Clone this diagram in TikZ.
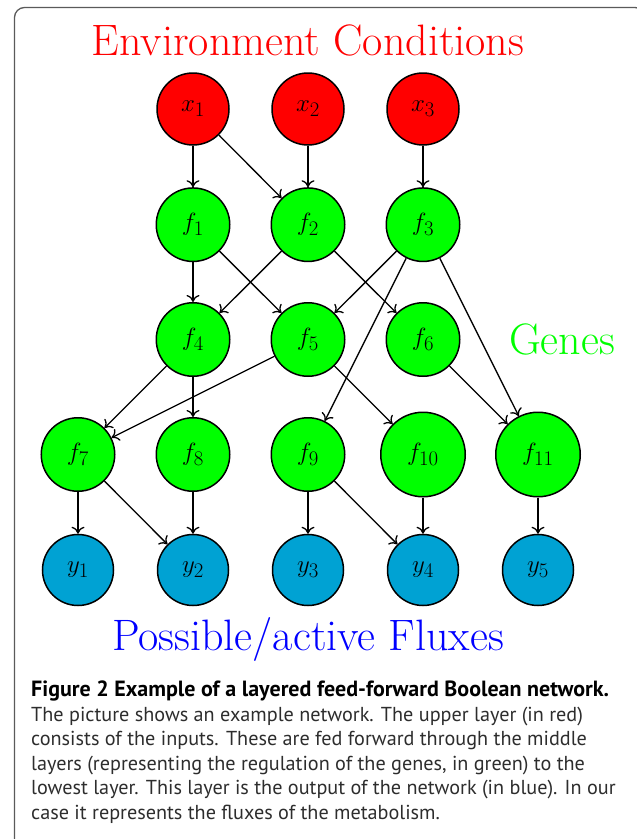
\documentclass[tikz,border=0pt]{standalone}
\usepackage{fontspec}
\newfontfamily\capfont{PT Sans}
\usetikzlibrary{arrows.meta}
\definecolor{xred}{RGB}{255,0,0}
\definecolor{fgreen}{RGB}{0,255,0}
\definecolor{yblue}{RGB}{0,162,211}
\definecolor{tblue}{RGB}{0,0,255}
\definecolor{framegray}{RGB}{90,90,90}
\definecolor{captext}{RGB}{45,45,45}
\begin{document}
\begin{tikzpicture}[x=1pt,y=-1pt,
  gate/.style={circle, draw=black, line width=1.5pt, inner sep=0pt, font=\Huge},
  xnode/.style={gate, fill=xred, minimum size=72pt},
  fnode/.style={gate, fill=fgreen, minimum size=73.5pt},
  fwide/.style={gate, fill=fgreen, minimum size=84.5pt},
  ynode/.style={gate, fill=yblue, minimum size=71pt},
  edge/.style={line width=1.3pt, -{To[length=7pt,width=13pt]}},
  bigtitle/.style={font=\fontsize{44}{50}\selectfont, anchor=base, inner sep=0pt},
  capline/.style={anchor=base west, inner sep=0pt, font=\capfont\fontsize{20.2}{24}\selectfont, text=captext},
  capbold/.style={capline, font=\capfont\bfseries\fontsize{22}{24}\selectfont, text=black}]
\useasboundingbox (0,0) rectangle (637,839);
\draw[framegray, line width=1.3pt, rounded corners=10pt] (14.5,900) -- (14.5,7.5) -- (645,7.5) -- (645,900);

\node[bigtitle, text=xred] (title) at (308,55) {Environment Conditions};
\node[bigtitle, text=fgreen] (genes) at (562,354) {Genes};
\node[bigtitle, text=tblue] (fluxes) at (308,650) {Possible/active Fluxes};

\node[xnode] (x1) at (193,109) {$x_1$};
\node[xnode] (x2) at (308,109) {$x_2$};
\node[xnode] (x3) at (423,109) {$x_3$};

\node[fnode] (f1) at (193,224.7) {$f_1$};
\node[fnode] (f2) at (308,224.7) {$f_2$};
\node[fnode] (f3) at (423,224.7) {$f_3$};

\node[fnode] (f4) at (193,339.5) {$f_4$};
\node[fnode] (f5) at (308,339.5) {$f_5$};
\node[fnode] (f6) at (423,339.5) {$f_6$};

\node[fnode] (f7) at (78,454.5) {$f_7$};
\node[fnode] (f8) at (193,454.5) {$f_8$};
\node[fnode] (f9) at (308,454.5) {$f_9$};
\node[fwide] (f10) at (423,454.5) {$f_{10}$};
\node[fwide] (f11) at (538,454.5) {$f_{11}$};

\node[ynode] (y1) at (78,570) {$y_1$};
\node[ynode] (y2) at (193,570) {$y_2$};
\node[ynode] (y3) at (308,570) {$y_3$};
\node[ynode] (y4) at (423,570) {$y_4$};
\node[ynode] (y5) at (538,570) {$y_5$};

\draw[edge] (x1) -- (f1);
\draw[edge] (x1) -- (f2);
\draw[edge] (x2) -- (f2);
\draw[edge] (x3) -- (f3);

\draw[edge] (f1) -- (f4);
\draw[edge] (f1) -- (f5);
\draw[edge] (f2) -- (f4);
\draw[edge] (f2) -- (f6);
\draw[edge] (f3) -- (f5);
\draw[edge] (f3) -- (f9);
\draw[edge] (f3) -- (f11);

\draw[edge] (f4) -- (f7);
\draw[edge] (f4) -- (f8);
\draw[edge] (f5) -- (f7);
\draw[edge] (f5) -- (f10);
\draw[edge] (f6) -- (f11);

\draw[edge] (f7) -- (y1);
\draw[edge] (f7) -- (y2);
\draw[edge] (f8) -- (y2);
\draw[edge] (f9) -- (y3);
\draw[edge] (f9) -- (y4);
\draw[edge] (f10) -- (y4);
\draw[edge] (f11) -- (y5);

\node[capbold] (cap1) at (31,696) {Figure 2 Example of a layered feed-forward Boolean network.};
\node[capline] (cap2) at (31,721) {The picture shows an example network. The upper layer (in red)};
\node[capline] (cap3) at (31,745.5) {consists of the inputs. These are fed forward through the middle};
\node[capline] (cap4) at (31,770) {layers (representing the regulation of the genes, in green) to the};
\node[capline] (cap5) at (31,794.5) {lowest layer. This layer is the output of the network (in blue). In our};
\node[capline] (cap6) at (31,819) {case it represents the fluxes of the metabolism.};
\end{tikzpicture}
\end{document}
